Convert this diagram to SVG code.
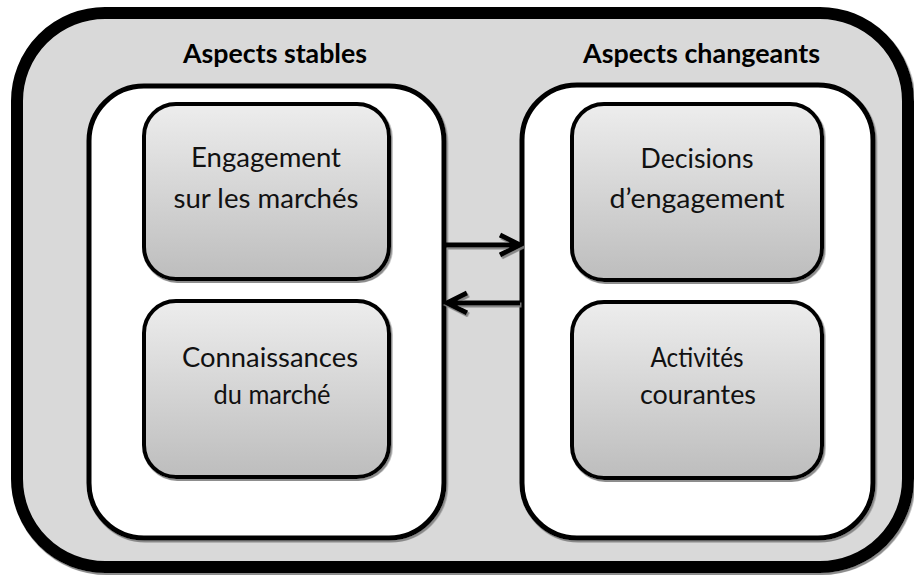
<svg xmlns="http://www.w3.org/2000/svg" width="914" height="576" viewBox="0 0 914 576">
  <defs>
    <linearGradient id="boxFill" x1="0" y1="0" x2="0" y2="1">
      <stop offset="0" stop-color="#ededed"/>
      <stop offset="1" stop-color="#bdbdbd"/>
    </linearGradient>
    <filter id="shadow" x="-5%" y="-5%" width="110%" height="110%">
      <feDropShadow dx="1.5" dy="2" stdDeviation="0.6" flood-color="#808080" flood-opacity="0.9"/>
    </filter>
    <style>
      .frame { fill: #d9d9d9; stroke: #000; stroke-width: 12; }
      .panel { fill: #fff; stroke: #000; stroke-width: 5; }
      .box { fill: url(#boxFill); stroke: #000; stroke-width: 4; }
      .title { font-family: Lato, "Open Sans", "Liberation Sans", sans-serif; font-weight: bold; font-size: 26px; fill: #000; }
      .label { font-family: Lato, "Open Sans", "Liberation Sans", sans-serif; font-size: 27px; fill: #111; text-anchor: middle; }
      .arrow { fill: none; stroke: #000; stroke-width: 5; stroke-linecap: butt; stroke-linejoin: miter; }
    </style>
  </defs>

  <rect width="914" height="576" fill="#fff"/>

  <!-- outer frame -->
  <g id="frame">
    <rect class="frame" x="17" y="13" width="891" height="554" rx="88" ry="88" filter="url(#shadow)"/>
  </g>

  <!-- stable aspects -->
  <g id="stable">
    <rect class="panel" x="89" y="86" width="355" height="452" rx="55" ry="55" filter="url(#shadow)"/>
    <text class="title" x="183" y="63" textLength="184" lengthAdjust="spacingAndGlyphs">Aspects stables</text>
  </g>

  <!-- changing aspects -->
  <g id="changing">
    <rect class="panel" x="522" y="85" width="351" height="453" rx="55" ry="55" filter="url(#shadow)"/>
    <text class="title" x="583" y="63" textLength="237" lengthAdjust="spacingAndGlyphs">Aspects changeants</text>
  </g>

  <g id="market-commitment">
    <rect class="box" x="144" y="104" width="245" height="175" rx="32" ry="32" filter="url(#shadow)"/>
    <text class="label" x="266" y="167" textLength="150" lengthAdjust="spacingAndGlyphs">Engagement</text>
    <text class="label" x="266" y="208" textLength="185" lengthAdjust="spacingAndGlyphs">sur les marchés</text>
  </g>

  <g id="market-knowledge">
    <rect class="box" x="144" y="301" width="245" height="176" rx="32" ry="32" filter="url(#shadow)"/>
    <text class="label" x="270" y="367" textLength="176" lengthAdjust="spacingAndGlyphs">Connaissances</text>
    <text class="label" x="272" y="404" textLength="117" lengthAdjust="spacingAndGlyphs">du marché</text>
  </g>

  <g id="commitment-decisions">
    <rect class="box" x="572" y="104" width="250" height="176" rx="32" ry="32" filter="url(#shadow)"/>
    <text class="label" x="697" y="168" textLength="113" lengthAdjust="spacingAndGlyphs">Decisions</text>
    <text class="label" x="697" y="208" textLength="175" lengthAdjust="spacingAndGlyphs">d’engagement</text>
  </g>

  <g id="current-activities">
    <rect class="box" x="572" y="302" width="250" height="176" rx="32" ry="32" filter="url(#shadow)"/>
    <text class="label" x="697" y="367" textLength="93" lengthAdjust="spacingAndGlyphs">Activités</text>
    <text class="label" x="698" y="404" textLength="116" lengthAdjust="spacingAndGlyphs">courantes</text>
  </g>

  <!-- connectors -->
  <g id="connectors" filter="url(#shadow)">
    <path class="arrow" d="M446,245 H518 M500,235 L520,245 L500,255"/>
    <path class="arrow" d="M520,303 H449 M467,293 L447,303 L467,313"/>
  </g>
</svg>
